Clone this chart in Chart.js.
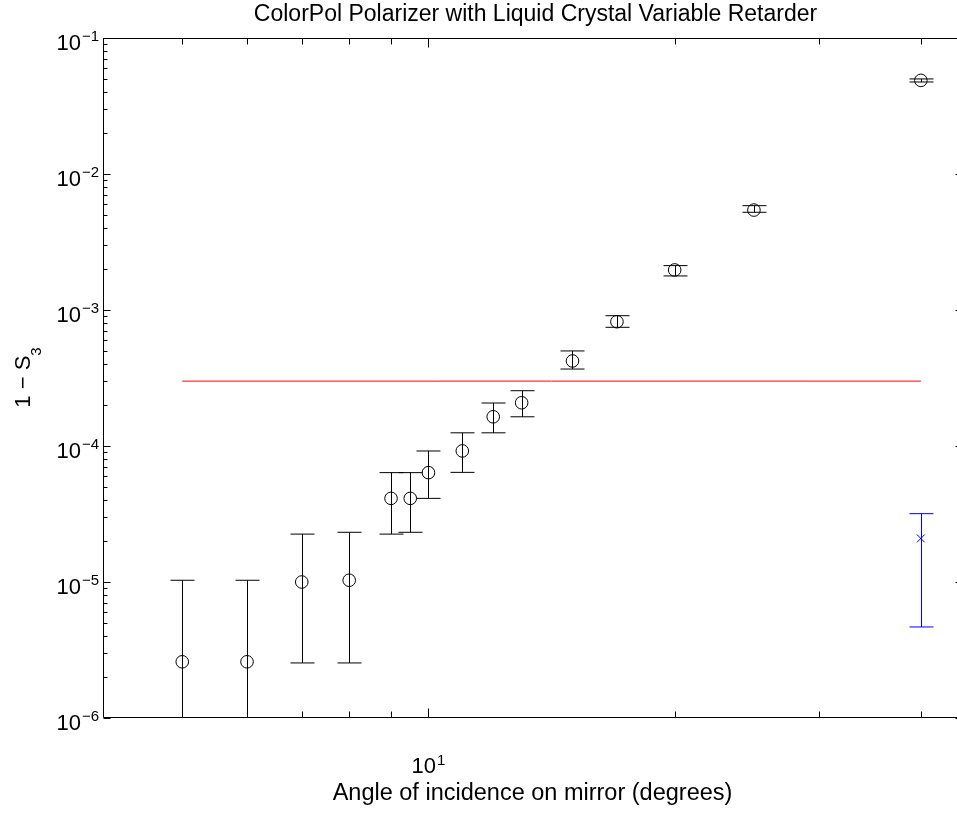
<!DOCTYPE html>
<html>
<head>
<meta charset="utf-8">
<script src="https://cdn.jsdelivr.net/npm/chart.js@4.4.1/dist/chart.umd.min.js"></script>
<style>
  html, body { margin: 0; padding: 0; background: #fff; }
  #wrap { width: 957px; height: 813px; overflow: hidden; }
  canvas { display: block; }
</style>
</head>
<body>
<div id="wrap"><canvas id="chart" width="970" height="813"></canvas></div>
<script>
// --- DADOS ---
const angles = [5, 6, 7, 8, 9, 9.5, 10, 11, 12, 13, 15, 17, 20, 25, 40];
const oneMinusS3 = [2.59e-6, 2.59e-6, 1.0e-5, 1.03e-5, 4.12e-5, 4.12e-5, 6.37e-5, 9.2e-5,
  1.64e-4, 2.08e-4, 4.22e-4, 8.2e-4, 1.97e-3, 5.43e-3, 4.88e-2];
const errLow = [5e-7, 5e-7, 2.54e-6, 2.54e-6, 2.25e-5, 2.32e-5, 4.12e-5, 6.4e-5,
  1.25e-4, 1.64e-4, 3.68e-4, 7.46e-4, 1.78e-3, 5.23e-3, 4.75e-2];
const errHigh = [1.03e-5, 1.03e-5, 2.25e-5, 2.32e-5, 6.37e-5, 6.37e-5, 9.19e-5, 1.25e-4,
  2.07e-4, 2.55e-4, 5.0e-4, 9.08e-4, 2.12e-3, 5.85e-3, 5.0e-2];

const thresholdAngles = [5, 40];
const thresholdValue = 3.0e-4;

const refAngle = [40];
const refValue = [2.09e-5];
const refLow = [4.67e-6];
const refHigh = [3.18e-5];

// --- EIXOS ---
const xMin = 4, xMax = 45;
const yMin = 1e-6, yMax = 1e-1;
const xMajorTicks = [10];
const xMinorTicks = [5, 6, 7, 8, 9, 20, 30, 40];
const xTickExponents = [1];
const yTickExponents = [-6, -5, -4, -3, -2, -1];
const yMinorMultipliers = [2, 3, 4, 5, 6, 7, 8, 9];

const titleText = 'ColorPol Polarizer with Liquid Crystal Variable Retarder';
const xLabelText = 'Angle of incidence on mirror (degrees)';
const yLabelMain = '1 \u2212 S';
const yLabelSub = '3';

const FONT = '"Liberation Sans", Arial, Helvetica, sans-serif';

// desenha barras de erro, caixa dos eixos, ticks e textos no estilo MATLAB
const matlabAxes = {
  id: 'matlabAxes',
  afterDatasetsDraw(chart) {
    const { ctx, chartArea: a } = chart;
    const xs = chart.scales.x, ys = chart.scales.y;
    const cap = 12;

    function errorBar(x, lo, hi, color) {
      const px = Math.round(xs.getPixelForValue(x)) + 0.5;
      const pLo = ys.getPixelForValue(lo);
      const pHi = ys.getPixelForValue(hi);
      ctx.strokeStyle = color;
      ctx.lineWidth = 1;
      ctx.beginPath();
      ctx.moveTo(px, pLo); ctx.lineTo(px, pHi);
      ctx.moveTo(px - cap, pLo); ctx.lineTo(px + cap, pLo);
      ctx.moveTo(px - cap, pHi); ctx.lineTo(px + cap, pHi);
      ctx.stroke();
    }

    ctx.save();
    ctx.beginPath();
    ctx.rect(a.left, a.top, a.right - a.left, a.bottom - a.top);
    ctx.clip();
    angles.forEach((x, i) => errorBar(x, errLow[i], errHigh[i], '#000'));
    refAngle.forEach((x, i) => errorBar(x, refLow[i], refHigh[i], '#0000ff'));
    ctx.restore();

    // caixa
    ctx.save();
    ctx.strokeStyle = '#000';
    ctx.lineWidth = 1;
    const L = Math.round(a.left) + 0.5, R = Math.round(a.right) - 0.5;
    const T = Math.round(a.top) + 0.5, B = Math.round(a.bottom) - 0.5;
    ctx.beginPath();
    ctx.moveTo(L, T); ctx.lineTo(R, T); ctx.lineTo(R, B); ctx.lineTo(L, B); ctx.closePath();
    ctx.stroke();

    // ticks x (para dentro)
    ctx.beginPath();
    const xTick = (v, len) => {
      const px = Math.round(xs.getPixelForValue(v)) + 0.5;
      ctx.moveTo(px, B); ctx.lineTo(px, B - len);
      ctx.moveTo(px, T); ctx.lineTo(px, T + len);
    };
    xMajorTicks.forEach(v => xTick(v, 9));
    xMinorTicks.forEach(v => xTick(v, 6));

    // ticks y
    const yTick = (v, len) => {
      const py = Math.round(ys.getPixelForValue(v)) + 0.5;
      ctx.moveTo(L, py); ctx.lineTo(L + len, py);
      ctx.moveTo(R, py); ctx.lineTo(R - len, py);
    };
    yTickExponents.forEach(e => {
      yTick(Math.pow(10, e), 7);
      if (e < yTickExponents[yTickExponents.length - 1]) {
        yMinorMultipliers.forEach(m => yTick(m * Math.pow(10, e), 4));
      }
    });
    ctx.stroke();

    // rótulos dos ticks
    ctx.fillStyle = '#000';
    ctx.textBaseline = 'alphabetic';
    yTickExponents.forEach(e => {
      const py = ys.getPixelForValue(Math.pow(10, e));
      ctx.font = '22px ' + FONT;
      ctx.textAlign = 'right';
      ctx.fillText('10', 81, py + 11.5);
      ctx.font = '15px ' + FONT;
      ctx.textAlign = 'left';
      ctx.fillText('\u2212' + Math.abs(e), 82, py + 3);
    });
    xTickExponents.forEach(e => {
      const px = xs.getPixelForValue(Math.pow(10, e));
      ctx.font = '22px ' + FONT;
      const w1 = ctx.measureText('10').width;
      ctx.font = '15px ' + FONT;
      const w2 = ctx.measureText(String(e)).width;
      const x0 = px - (w1 + 1 + w2) / 2;
      ctx.textAlign = 'left';
      ctx.font = '22px ' + FONT;
      ctx.fillText('10', x0, 773);
      ctx.font = '15px ' + FONT;
      ctx.fillText(String(e), x0 + w1 + 1, 764.5);
    });

    // título e rótulos dos eixos
    ctx.font = '23px ' + FONT;
    ctx.textAlign = 'center';
    ctx.fillText(titleText, 535.5, 21);
    ctx.font = '23.5px ' + FONT;
    ctx.fillText(xLabelText, 532.5, 800);

    ctx.translate(30, 377.5);
    ctx.rotate(-Math.PI / 2);
    ctx.font = '22px ' + FONT;
    const wm = ctx.measureText(yLabelMain).width;
    ctx.font = '15px ' + FONT;
    const ws = ctx.measureText(yLabelSub).width;
    const s = -(wm + ws) / 2;
    ctx.textAlign = 'left';
    ctx.font = '22px ' + FONT;
    ctx.fillText(yLabelMain, s, 0);
    ctx.font = '15px ' + FONT;
    ctx.fillText(yLabelSub, s + wm, 10.5);
    ctx.restore();
  }
};

const chart = new Chart(document.getElementById('chart').getContext('2d'), {
  type: 'scatter',
  data: {
    datasets: [
      {
        label: '1 - S3',
        data: angles.map((x, i) => ({ x, y: oneMinusS3[i] })),
        pointStyle: 'circle',
        pointRadius: 6.3,
        pointBorderWidth: 1,
        pointBorderColor: '#000',
        pointBackgroundColor: 'rgba(0,0,0,0)',
        showLine: false,
      },
      {
        label: 'limite',
        type: 'line',
        data: thresholdAngles.map(x => ({ x, y: thresholdValue })),
        borderColor: '#ff0000',
        borderWidth: 1,
        pointRadius: 0,
        fill: false,
      },
      {
        label: 'referência',
        data: refAngle.map((x, i) => ({ x, y: refValue[i] })),
        pointStyle: 'crossRot',
        pointRadius: 5.5,
        pointBorderWidth: 1,
        pointBorderColor: '#0000ff',
        showLine: false,
      },
    ],
  },
  options: {
    responsive: false,
    animation: false,
    devicePixelRatio: 1,
    layout: { padding: { left: 103, top: 38, right: 7, bottom: 95 } },
    scales: {
      x: { type: 'logarithmic', min: xMin, max: xMax, display: false },
      y: { type: 'logarithmic', min: yMin, max: yMax, display: false },
    },
    plugins: {
      legend: { display: false },
      tooltip: { enabled: false },
      title: { display: false },
    },
  },
  plugins: [matlabAxes],
});
</script>
</body>
</html>
